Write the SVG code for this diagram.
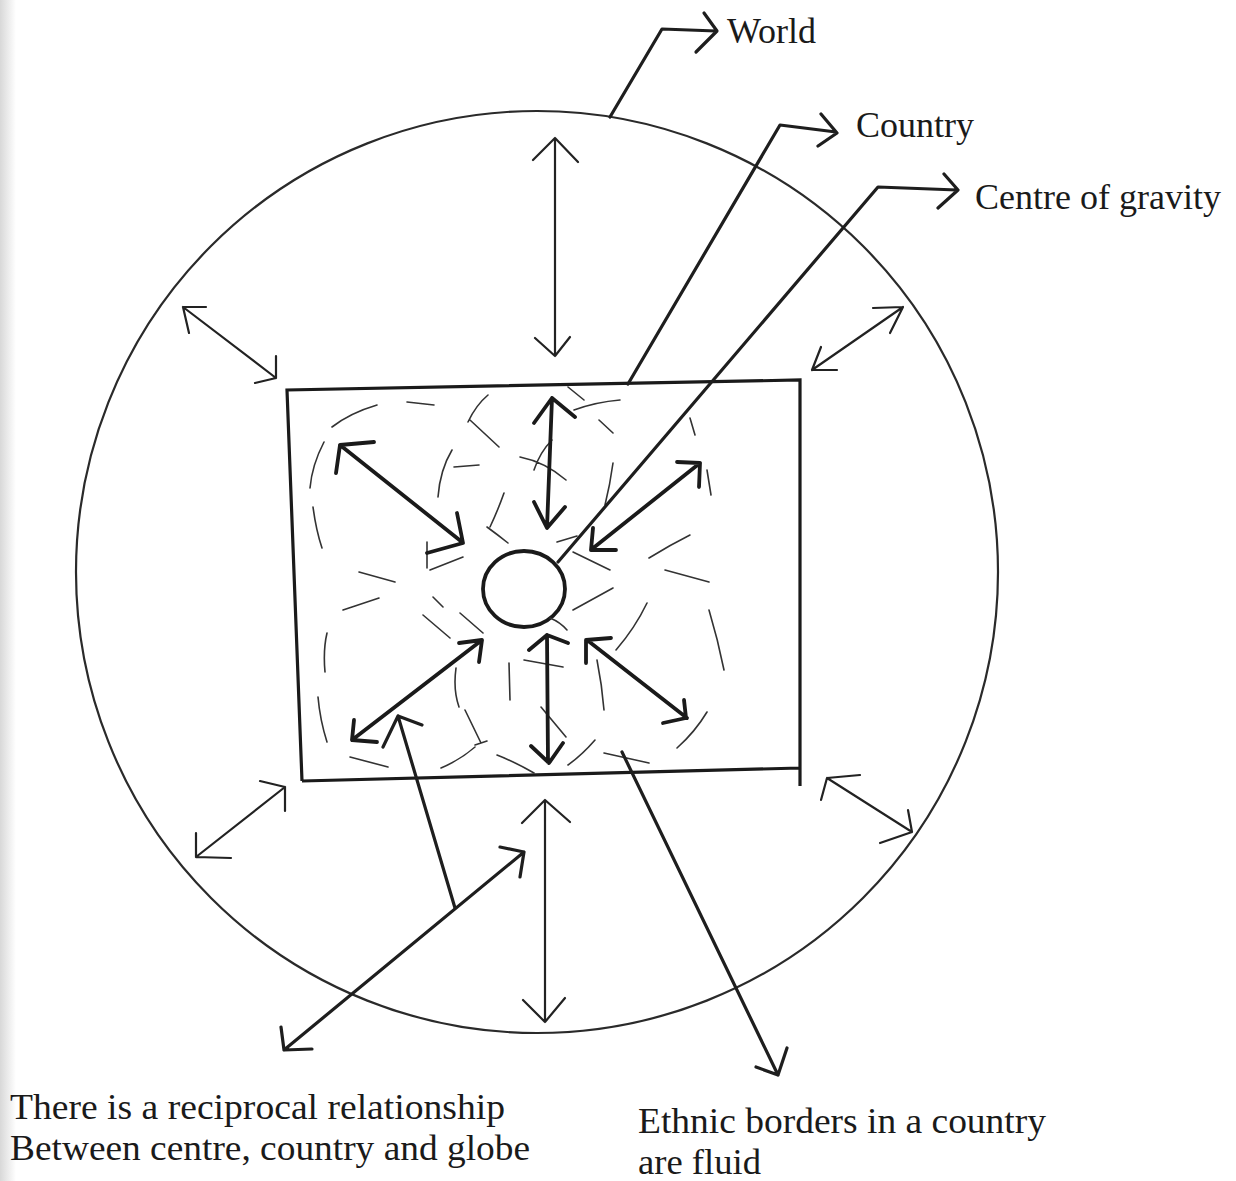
<svg xmlns="http://www.w3.org/2000/svg" width="1236" height="1181" viewBox="0 0 1236 1181">
<defs>
<linearGradient id="shade" x1="0" y1="0" x2="1" y2="0">
<stop offset="0" stop-color="#d8d8d8"/>
<stop offset="1" stop-color="#ffffff"/>
</linearGradient>
</defs>
<style>
.world{fill:none;stroke:#2a2a2a;stroke-width:2.2}
.box{fill:none;stroke:#1a1a1a;stroke-width:3.2;stroke-linejoin:miter}
.lead{fill:none;stroke:#1e1e1e;stroke-width:3.2;stroke-linecap:round;stroke-linejoin:round}
.thin{fill:none;stroke:#222;stroke-width:2.2;stroke-linecap:round;stroke-linejoin:round}
.thick{fill:none;stroke:#1a1a1a;stroke-width:3.8;stroke-linecap:round;stroke-linejoin:round}
.dash{fill:none;stroke:#333;stroke-width:1.6;stroke-linecap:round}
.lbl{font-family:"Liberation Serif","Times New Roman",serif;font-size:36px;fill:#1a1a1a}
.note{font-family:"Liberation Serif","Times New Roman",serif;font-size:35px;fill:#1a1a1a}
</style>
<rect x="0" y="0" width="1236" height="1181" fill="#ffffff"/>
<rect x="0" y="0" width="16" height="1181" fill="url(#shade)"/>

<g id="world">
<circle cx="537" cy="572" r="461" class="world"/>
<text x="727" y="43" class="lbl">World</text>
</g>

<g id="country">
<path d="M302,781 L287,390 L800,380 L800,786 M800,768 L302,781" class="box"/>
<text x="856" y="137" class="lbl">Country</text>
</g>

<g id="centre-of-gravity">
<ellipse cx="524" cy="589" rx="41" ry="38" class="thick"/>
<text x="975" y="209" class="lbl">Centre of gravity</text>
</g>

<g id="ethnic-borders">
<path class="dash" d="M332,427 Q350,413 377,405 M407,402 L434,405 M324,442 Q312,465 310,488 M313,507 Q316,530 322,548 M359,572 L395,582 M343,610 L379,598 M327,633 Q323,650 325,672 M318,697 Q320,720 327,742 M350,757 L388,767 M441,768 Q460,760 475,747 M465,710 L481,743 M475,745 L487,741 M456,668 Q453,690 459,707 M509,663 L510,700 M433,597 L443,607 M423,615 L450,638 M460,613 L483,633 M497,755 Q515,762 534,773 M568,765 Q582,755 595,740 M604,753 L649,763 M597,660 Q602,685 604,710 M677,748 Q695,732 707,712 M709,610 Q718,640 724,670 M616,650 Q635,628 647,603 M573,610 L613,588 M665,570 L709,582 M649,558 Q670,545 690,535 M707,470 L711,495 M690,418 L695,435 M573,552 L610,570 M557,542 L577,536 M613,463 Q610,485 605,505 M599,420 L613,433 M574,410 Q596,402 620,400 M568,387 L584,400 M520,457 Q545,462 566,480 M534,470 Q540,452 552,440 M488,395 Q476,405 468,422 M470,420 L499,447 M438,497 Q440,470 452,450 M454,467 L479,465 M487,527 Q498,535 508,543 M490,527 Q498,510 504,493 M427,542 L427,568 M430,570 L463,557 M524,660 L563,667 M541,707 L566,737 M550,618 Q560,622 567,630"/>
</g>

<g id="notes">
<text x="10" y="1119" class="note" textLength="495" lengthAdjust="spacingAndGlyphs">There is a reciprocal relationship</text>
<text x="10" y="1160" class="note" textLength="520" lengthAdjust="spacingAndGlyphs">Between centre, country and globe</text>
<text x="638" y="1133" class="note" textLength="408" lengthAdjust="spacingAndGlyphs">Ethnic borders in a country</text>
<text x="638" y="1174" class="note" textLength="123" lengthAdjust="spacingAndGlyphs">are fluid</text>
</g>

<g id="connectors">
<path class="lead" d="M610,117 L662,29 L716,31 M704,13 L717,31 L696,52"/>
<path class="lead" d="M628,384 L780,125 L836,132 M821,114 L837,133 L818,146"/>
<path class="lead" d="M558,562 L878,187 L957,190 M944,174 L958,190 L938,208"/>
<path class="lead" d="M455,908 L398,716 M383,747 L398,716 L422,725"/>
<path class="lead" d="M622,752 L778,1075 M756,1067 L778,1075 L787,1048"/>
<path class="lead" d="M284,1050 L524,852 M281,1027 L284,1050 L312,1049 M500,847 L524,852 L520,877"/>
<path class="thin" d="M555,138 L555,356 M533,160 L555,138 L578,162 M535,338 L555,356 L570,337"/>
<path class="thin" d="M183,307 L276,378 M206,307 L183,307 L189,333 M255,383 L276,378 L276,356"/>
<path class="thin" d="M812,370 L903,307 M873,308 L903,307 L890,333 M837,370 L812,370 L821,347"/>
<path class="thin" d="M196,857 L285,787 M260,781 L285,787 L285,811 M196,833 L196,857 L231,858"/>
<path class="thin" d="M545,800 L545,1022 M522,823 L545,800 L570,822 M523,1000 L545,1022 L565,998"/>
<path class="thin" d="M827,778 L912,832 M860,775 L827,778 L821,800 M880,843 L912,832 L908,810"/>
<path class="thick" d="M340,445 L462,542 M374,442 L340,445 L336,473 M427,553 L463,543 L457,513"/>
<path class="thick" d="M552,398 L547,528 M534,423 L552,398 L575,417 M534,502 L547,528 L565,507"/>
<path class="thick" d="M700,463 L592,549 M677,462 L700,463 L699,487 M593,528 L591,550 L616,550"/>
<path class="thick" d="M482,640 L352,740 M459,643 L482,640 L479,662 M354,720 L352,740 L377,742"/>
<path class="thick" d="M547,635 L548,762 M529,650 L547,635 L568,643 M531,746 L549,763 L563,743"/>
<path class="thick" d="M587,640 L687,718 M611,638 L586,640 L586,663 M663,723 L686,718 L684,700"/>
</g>
</svg>
